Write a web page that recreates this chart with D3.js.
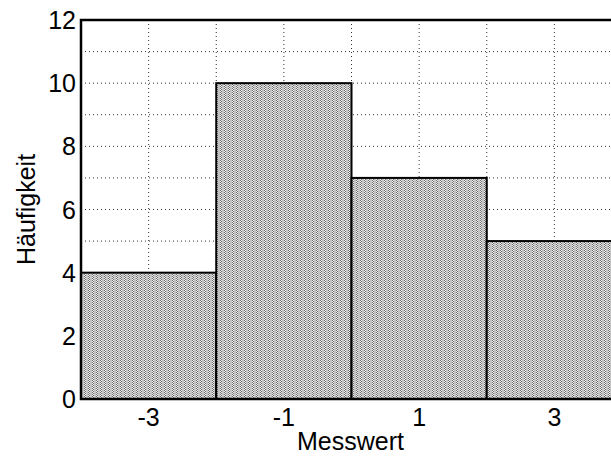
<!DOCTYPE html>
<html><head><meta charset="utf-8">
<script src="https://cdn.jsdelivr.net/npm/d3@7"></script>
<style>body{margin:0;background:#fff}svg{display:block}text{font-family:"Liberation Sans",Arial,sans-serif;fill:#000}</style>
</head><body>
<script>
const binStarts = [-4, -2, 0, 2];
const binWidth = 2;
const counts = [4, 10, 7, 5];
const xTicks = [-3, -1, 1, 3];
const yTicks = [0, 2, 4, 6, 8, 10, 12];
const xGrid = [-3, -2, -1, 0, 1, 2, 3];
const yGrid = [1, 2, 3, 4, 5, 6, 7, 8, 9, 10, 11];
const xLabel = "Messwert";
const yLabel = "Häufigkeit";

const W = 611, H = 457;
const svg = d3.select("body").append("svg").attr("width", W).attr("height", H);
const x = d3.scaleLinear().domain([-4, 4]).range([81, 622]);
const y = d3.scaleLinear().domain([0, 12]).range([399, 20]);

const defs = svg.append("defs");
const pat = defs.append("pattern").attr("id", "stip").attr("patternUnits", "userSpaceOnUse")
  .attr("width", 4).attr("height", 2);
pat.append("rect").attr("width", 4).attr("height", 2).attr("fill", "#c4c4c4");
[[0,0],[1,1]].forEach(([a,b]) =>
  pat.append("rect").attr("x", a).attr("y", b).attr("width", 1).attr("height", 1).attr("fill", "#6e6e6e"));
[[1,0],[0,1]].forEach(([a,b]) =>
  pat.append("rect").attr("x", a).attr("y", b).attr("width", 1).attr("height", 1).attr("fill", "#efefef"));

// grid
const g = svg.append("g");
g.selectAll(".gx").data(xGrid).join("line")
  .attr("x1", d => x(d)).attr("x2", d => x(d)).attr("y1", y(12)).attr("y2", y(0))
  .attr("stroke", "#333").attr("stroke-width", 1).attr("stroke-dasharray", "1,3");
g.selectAll(".gy").data(yGrid).join("line")
  .attr("x1", x(-4)).attr("x2", x(4)).attr("y1", d => y(d)).attr("y2", d => y(d))
  .attr("stroke", "#333").attr("stroke-width", 1).attr("stroke-dasharray", "1,3");

// bars
svg.selectAll(".bar").data(counts).join("rect")
  .attr("x", (d, i) => x(binStarts[i]))
  .attr("width", (d, i) => x(binStarts[i] + binWidth) - x(binStarts[i]))
  .attr("y", d => y(d)).attr("height", d => y(0) - y(d))
  .attr("fill", "url(#stip)").attr("stroke", "#000").attr("stroke-width", 2);

// frame
svg.append("path").attr("d", `M${x(4)},${y(12)} H${x(-4)} V${y(0)} H${x(4)}`)
  .attr("fill", "none").attr("stroke", "#000").attr("stroke-width", 2.5);

// tick labels
svg.selectAll(".yt").data(yTicks).join("text")
  .attr("x", 76).attr("y", d => y(d)).attr("dy", "0.36em")
  .attr("text-anchor", "end").attr("font-size", 25).text(d => d);
svg.selectAll(".xt").data(xTicks).join("text")
  .attr("x", d => x(d)).attr("y", 426)
  .attr("text-anchor", "middle").attr("font-size", 25).text(d => d);

svg.append("text").attr("x", (x(-4) + x(4)) / 2 - 1).attr("y", 450)
  .attr("text-anchor", "middle").attr("font-size", 25).text(xLabel);
svg.append("text").attr("transform", `translate(35,${(y(0)+y(12))/2}) rotate(-90)`)
  .attr("text-anchor", "middle").attr("font-size", 25).text(yLabel);
</script>
</body></html>
